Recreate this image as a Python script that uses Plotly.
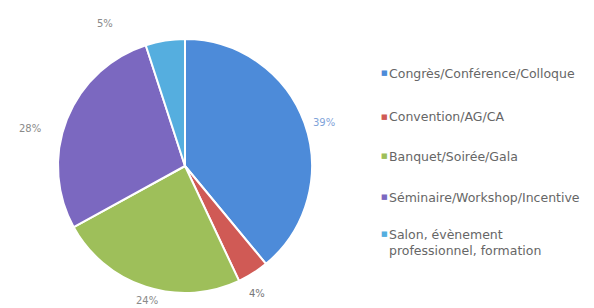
import math
import plotly.graph_objects as go

# ---- data ----
categories = [
    "Congrès/Conférence/Colloque",
    "Convention/AG/CA",
    "Banquet/Soirée/Gala",
    "Séminaire/Workshop/Incentive",
    "Salon, évènement<br>professionnel, formation",
]
values = [39, 4, 24, 28, 5]
pct_labels = ["39%", "4%", "24%", "28%", "5%"]

# ---- style ----
colors = ["#4D8BD9", "#D05A55", "#9EBF5A", "#7B68C0", "#55AEDF"]
label_colors = ["#7FA3D9", "#777777", "#8A8A8A", "#8A8A8A", "#8A8A8A"]
label_offsets = [(8, 4), (-3, 10), (5, 2), (-25, 14), (-58, -5)]
PAGE_OFF = 8          # default body margin of the html page
W, H = 594 - PAGE_OFF, 308 - PAGE_OFF
CX, CY, R = 185 - PAGE_OFF, 166 - PAGE_OFF, 127

fig = go.Figure(go.Pie(
    labels=categories,
    values=values,
    sort=False,
    direction="clockwise",
    rotation=0,
    marker=dict(colors=colors, line=dict(color="white", width=2)),
    textinfo="none",
    hoverinfo="label+percent",
    showlegend=False,
    domain=dict(x=[(CX - R) / W, (CX + R) / W], y=[(H - CY - R) / H, (H - CY + R) / H]),
))

annotations = []
total = sum(values)
cum = 0
for v, txt, col, (ox, oy) in zip(values, pct_labels, label_colors, label_offsets):
    mid = (cum + v / 2) / total * 2 * math.pi
    cum += v
    px = CX + 1.1 * R * math.sin(mid) + ox
    py = CY - 1.1 * R * math.cos(mid) + oy
    annotations.append(dict(
        x=px / W, y=1 - py / H, xref="paper", yref="paper",
        text=txt, showarrow=False, xanchor="center", yanchor="middle",
        font=dict(family="DejaVu Sans", size=10, color=col),
    ))

# legend built from the categories
legend_y = [73, 117, 156, 197, 242]
for cat, col, ly in zip(categories, colors, legend_y):
    first_line = ly - (8 if "<br>" in cat else 0)
    annotations.append(dict(
        x=(379 - PAGE_OFF) / W, y=1 - (first_line - PAGE_OFF) / H, xref="paper", yref="paper",
        text="■", showarrow=False, xanchor="left", yanchor="middle",
        font=dict(family="DejaVu Sans", size=7, color=col),
    ))
    annotations.append(dict(
        x=(387 - PAGE_OFF) / W, y=1 - (ly - PAGE_OFF) / H, xref="paper", yref="paper",
        text=cat, showarrow=False, xanchor="left", yanchor="middle", align="left",
        font=dict(family="DejaVu Sans", size=12.5, color="#666666"),
    ))

fig.update_layout(
    width=W, height=H,
    margin=dict(l=0, r=0, t=0, b=0),
    paper_bgcolor="white",
    plot_bgcolor="white",
    annotations=annotations,
)

fig.write_html("out.html")
